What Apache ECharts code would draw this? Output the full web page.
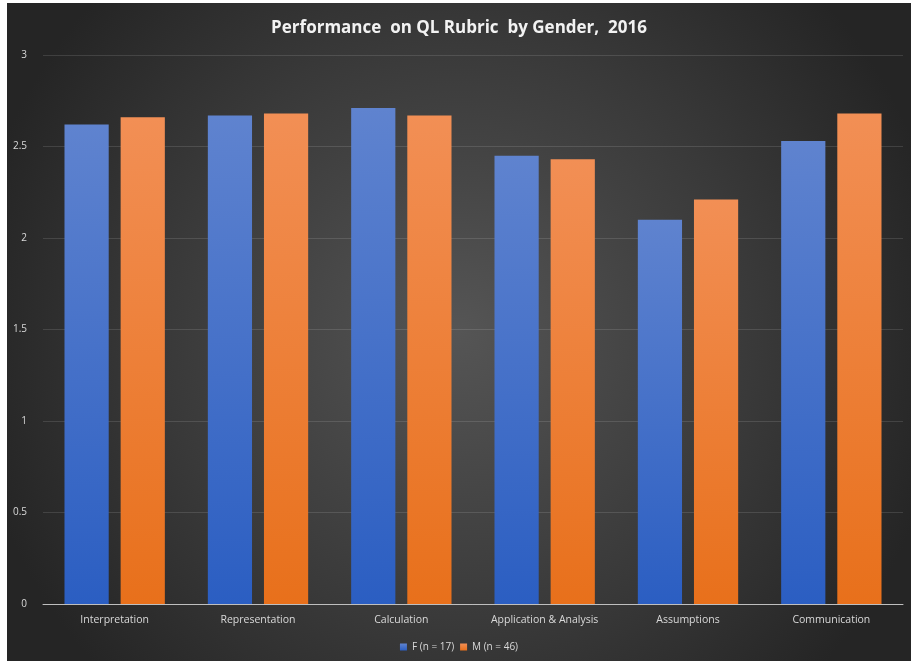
<!DOCTYPE html>
<html>
<head>
<meta charset="utf-8">
<script src="https://cdn.jsdelivr.net/npm/echarts@6/dist/echarts.min.js"></script>
<style>
  html, body { margin: 0; padding: 0; background: #ffffff; overflow: hidden; width: 100%; height: 100%; }
  #chart { position: absolute; left: 7px; top: 3px; right: 0; bottom: 0; }
</style>
</head>
<body>
<div id="chart"></div>
<script>
// QL rubric scores by dimension and gender
const categories = ['Interpretation', 'Representation', 'Calculation', 'Application & Analysis', 'Assumptions', 'Communication'];
const femaleScores = [2.62, 2.67, 2.71, 2.45, 2.10, 2.53];
const maleScores = [2.66, 2.68, 2.67, 2.43, 2.21, 2.68];
const seriesNames = ['F (n = 17)', 'M (n = 46)'];

const chart = echarts.init(document.getElementById('chart'));

function vGrad(top, bottom) {
  return new echarts.graphic.LinearGradient(0, 0, 0, 1, [
    { offset: 0, color: top },
    { offset: 1, color: bottom }
  ]);
}

chart.setOption({
  backgroundColor: new echarts.graphic.RadialGradient(0.5, 0.5, 0.75, [
    { offset: 0, color: '#555555' },
    { offset: 0.6, color: '#393939' },
    { offset: 1, color: '#252525' }
  ]),
  title: {
    text: 'Performance  on QL Rubric  by Gender,  2016',
    left: 'center',
    top: 12,
    textStyle: { color: '#f2f2f2', fontSize: 17, fontWeight: 'bold', fontFamily: 'Open Sans' }
  },
  legend: {
    data: seriesNames,
    bottom: 4,
    left: 'center',
    itemWidth: 7,
    itemHeight: 7,
    itemGap: 6,
    icon: 'rect',
    textStyle: { color: '#d9d9d9', fontSize: 10, fontFamily: 'Open Sans' }
  },
  grid: { left: 36, right: 8, top: 52, bottom: 57 },
  xAxis: {
    type: 'category',
    data: categories,
    axisLine: { lineStyle: { color: '#bfbfbf', width: 1 } },
    axisTick: { show: false },
    axisLabel: { color: '#d9d9d9', fontSize: 10.5, margin: 11, fontFamily: 'Open Sans' }
  },
  yAxis: {
    type: 'value',
    min: 0,
    max: 3,
    interval: 0.5,
    axisLine: { show: false },
    axisTick: { show: false },
    axisLabel: { color: '#d9d9d9', fontSize: 10, margin: 16, fontFamily: 'Open Sans' },
    splitLine: { lineStyle: { color: 'rgba(255,255,255,0.12)', width: 1 } }
  },
  series: [
    {
      name: seriesNames[0],
      type: 'bar',
      data: femaleScores,
      barCategoryGap: '30%',
      barGap: '27%',
      itemStyle: {
        color: vGrad('#5f83cf', '#2b5ec2'),
        shadowColor: 'rgba(0,0,0,0.55)',
        shadowBlur: 6,
        shadowOffsetX: 2
      }
    },
    {
      name: seriesNames[1],
      type: 'bar',
      data: maleScores,
      barCategoryGap: '30%',
      barGap: '27%',
      itemStyle: {
        color: vGrad('#f28f55', '#e8701b'),
        shadowColor: 'rgba(0,0,0,0.55)',
        shadowBlur: 6,
        shadowOffsetX: 2
      }
    }
  ]
});
</script>
</body>
</html>
